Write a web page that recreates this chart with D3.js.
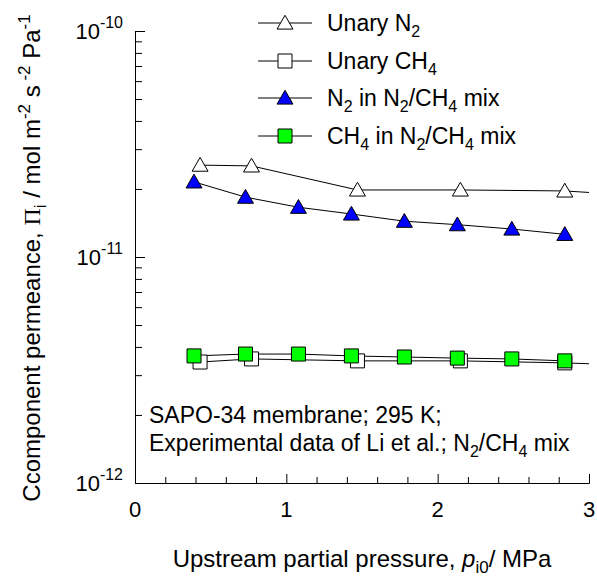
<!DOCTYPE html>
<html>
<head>
<meta charset="utf-8">
<script src="https://cdnjs.cloudflare.com/ajax/libs/d3/7.8.5/d3.min.js"></script>
<style>
  body { margin: 0; background: #fff; }
  svg text { font-family: Arial, "Liberation Sans", sans-serif; fill: #000; }
</style>
</head>
<body>
<div id="chart"></div>
<script>
// upstream partial pressure, MPa
var pressUnary = [0.43, 0.77, 1.47, 2.15, 2.84];
var pressMix = [0.39, 0.73, 1.08, 1.43, 1.78, 2.13, 2.49, 2.84];

// permeances, mol m-2 s-1 Pa-1
var permN2Unary = [2.55e-11, 2.53e-11, 1.98e-11, 1.98e-11, 1.96e-11];
var permCH4Unary = [3.43e-12, 3.54e-12, 3.47e-12, 3.47e-12, 3.40e-12];
var permN2Mix = [2.15e-11, 1.84e-11, 1.66e-11, 1.55e-11, 1.44e-11, 1.39e-11, 1.33e-11, 1.26e-11];
var permCH4Mix = [3.65e-12, 3.72e-12, 3.72e-12, 3.65e-12, 3.61e-12, 3.57e-12, 3.54e-12, 3.47e-12];

// the unary curves run on to the end of the axis
var unaryLineEndP = 3.0;
var n2UnaryLineEnd = 1.93e-11;
var ch4UnaryLineEnd = 3.37e-12;

var xTicks = [0, 1, 2, 3];
var yDecades = [-12, -11, -10];

(function () {
    var W = 597, H = 576;
    var mLeft = 135, mRight = 589, mTop = 31, mBottom = 483;

    var svg = d3.select("#chart").append("svg")
        .attr("width", W)
        .attr("height", H);

    var x = d3.scaleLinear().domain([0, 3]).range([mLeft, mRight]);
    var y = d3.scaleLog().domain([1e-12, 1e-10]).range([mBottom, mTop]);

    // ---- axes ----
    var minorX = d3.range(0, 3.0001, 0.2).filter(function (v) {
        return Math.abs(v - Math.round(v)) > 1e-6;
    });
    var xAxis = d3.axisTop(x).tickValues(xTicks).tickSize(9).tickFormat("").tickSizeOuter(0);
    var xAxisMinor = d3.axisTop(x).tickValues(minorX).tickSize(6).tickFormat("").tickSizeOuter(0);

    svg.append("g").attr("transform", "translate(0," + mBottom + ")").call(xAxis);
    svg.append("g").attr("transform", "translate(0," + mBottom + ")").call(xAxisMinor);

    var minorY = [];
    [-12, -11].forEach(function (d) {
        for (var k = 2; k <= 9; k += 1) { minorY.push(k * Math.pow(10, d)); }
    });
    var yAxis = d3.axisRight(y).tickValues(yDecades.map(function (d) { return Math.pow(10, d); }))
        .tickSize(10).tickFormat("").tickSizeOuter(0);
    var yAxisMinor = d3.axisRight(y).tickValues(minorY).tickSize(7).tickFormat("").tickSizeOuter(0);

    svg.append("g").attr("transform", "translate(" + mLeft + ",0)").call(yAxis);
    svg.append("g").attr("transform", "translate(" + mLeft + ",0)").call(yAxisMinor);

    svg.selectAll(".domain, .tick line").attr("stroke", "#000").attr("stroke-width", 1);

    // x tick labels
    svg.selectAll(".xlab").data(xTicks).enter().append("text")
        .attr("x", function (d) { return x(d); })
        .attr("y", mBottom + 34)
        .attr("text-anchor", "middle")
        .attr("font-size", "22px")
        .text(function (d) { return d; });

    // y tick labels: 10^n
    yDecades.forEach(function (d) {
        var t = svg.append("text")
            .attr("x", 123)
            .attr("y", y(Math.pow(10, d)) + 8)
            .attr("text-anchor", "end")
            .attr("font-size", "22px");
        t.append("tspan").text("10");
        t.append("tspan").attr("font-size", "16px").attr("dy", -11).text(d);
    });

    // axis titles
    var xt = svg.append("text")
        .attr("x", 362)
        .attr("y", 567)
        .attr("text-anchor", "middle")
        .attr("font-size", "24px");
    xt.append("tspan").text("Upstream partial pressure, ");
    xt.append("tspan").attr("font-style", "italic").text("p");
    xt.append("tspan").attr("font-size", "17px").attr("dy", 6).text("i0");
    xt.append("tspan").attr("dy", -6).text("/ MPa");

    var yt = svg.append("text")
        .attr("transform", "translate(40," + 258 + ") rotate(-90)")
        .attr("text-anchor", "middle")
        .attr("font-size", "24px");
    yt.append("tspan").text("Ccomponent permeance, ");
    yt.append("tspan").attr("font-family", "'Times New Roman', 'Liberation Serif', serif").text("\u03A0");
    yt.append("tspan").attr("font-size", "17px").attr("dy", 6).text("i");
    yt.append("tspan").attr("dy", -6).text("  / mol m");
    yt.append("tspan").attr("font-size", "17px").attr("dy", -10).text("-2");
    yt.append("tspan").attr("dy", 10).text(" s");
    yt.append("tspan").attr("font-size", "17px").attr("dy", -10).text(" -2");
    yt.append("tspan").attr("dy", 10).text(" Pa");
    yt.append("tspan").attr("font-size", "17px").attr("dy", -10).text("-1");

    // ---- series ----
    var triangle = d3.symbol().type(d3.symbolTriangle).size(110);
    var square = d3.symbol().type(d3.symbolSquare).size(196);

    var line = d3.line()
        .x(function (d) { return x(d[0]); })
        .y(function (d) { return y(d[1]); });

    function zip(xs, ys) {
        return xs.map(function (v, i) { return [v, ys[i]]; });
    }

    var series = [
        { pts: zip(pressUnary, permN2Unary), end: [unaryLineEndP, n2UnaryLineEnd], shape: triangle, fill: "#fff", dy: 1.5 },
        { pts: zip(pressUnary, permCH4Unary), end: [unaryLineEndP, ch4UnaryLineEnd], shape: square, fill: "#fff", dy: 0 },
        { pts: zip(pressMix, permN2Mix), end: null, shape: triangle, fill: "#0000ff", dy: 1.5 },
        { pts: zip(pressMix, permCH4Mix), end: null, shape: square, fill: "#00ff00", dy: 0 }
    ];

    series.forEach(function (s) {
        var lp = s.end ? s.pts.concat([s.end]) : s.pts;
        svg.append("path")
            .attr("d", line(lp))
            .attr("fill", "none")
            .attr("stroke", "#000")
            .attr("stroke-width", 1);
    });

    series.forEach(function (s) {
        svg.selectAll(null).data(s.pts).enter().append("path")
            .attr("d", s.shape)
            .attr("transform", function (d) { return "translate(" + x(d[0]) + "," + (y(d[1]) + s.dy) + ")"; })
            .attr("fill", s.fill)
            .attr("stroke", "#000")
            .attr("stroke-width", 1);
    });

    // ---- legend ----
    var legendRows = [23, 61, 98, 136];
    var legendLabels = [
        [["Unary N", 0], ["2", 1]],
        [["Unary CH", 0], ["4", 1]],
        [["N", 0], ["2", 1], [" in N", 0], ["2", 1], ["/CH", 0], ["4", 1], [" mix", 0]],
        [["CH", 0], ["4", 1], [" in N", 0], ["2", 1], ["/CH", 0], ["4", 1], [" mix", 0]]
    ];

    series.forEach(function (s, i) {
        var ly = legendRows[i];
        svg.append("line")
            .attr("x1", 258).attr("x2", 312)
            .attr("y1", ly).attr("y2", ly)
            .attr("stroke", "#000");
        svg.append("path")
            .attr("d", s.shape)
            .attr("transform", "translate(285," + (ly + s.dy) + ")")
            .attr("fill", s.fill)
            .attr("stroke", "#000");
        var t = svg.append("text")
            .attr("x", 327)
            .attr("y", ly + 8)
            .attr("font-size", "23px");
        var sub = false;
        legendLabels[i].forEach(function (p) {
            var ts = t.append("tspan").text(p[0]);
            if (p[1] && !sub) { ts.attr("font-size", "16px").attr("dy", 6); sub = true; }
            else if (!p[1] && sub) { ts.attr("dy", -6); sub = false; }
        });
    });

    // ---- annotation ----
    svg.append("text")
        .attr("x", 149).attr("y", 423)
        .attr("font-size", "23px")
        .text("SAPO-34 membrane; 295 K;");
    var an = svg.append("text")
        .attr("x", 149).attr("y", 451)
        .attr("font-size", "23px");
    an.append("tspan").text("Experimental data of Li et al.; N");
    an.append("tspan").attr("font-size", "16px").attr("dy", 6).text("2");
    an.append("tspan").attr("dy", -6).text("/CH");
    an.append("tspan").attr("font-size", "16px").attr("dy", 6).text("4");
    an.append("tspan").attr("dy", -6).text(" mix");
})();
</script>
</body>
</html>
